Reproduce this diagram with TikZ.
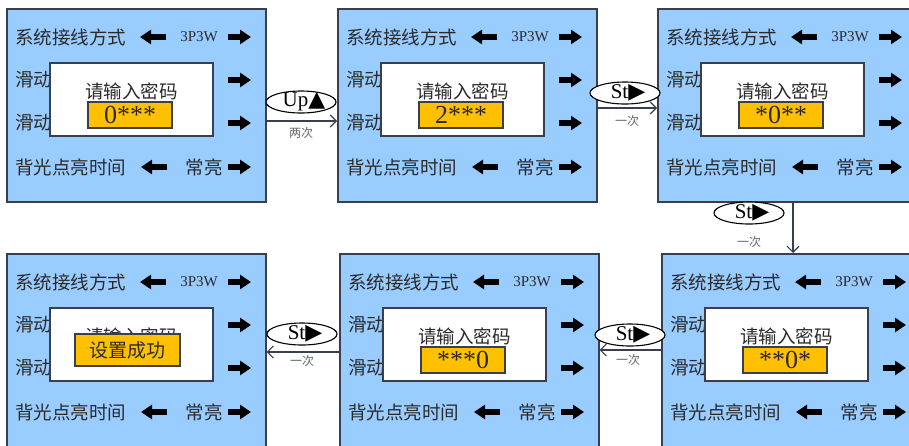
\documentclass[tikz,border=0pt]{standalone}
\usepackage{fontspec}
\setmainfont{Liberation Serif}
\newfontfamily\cjk{Noto Sans CJK SC}
\newfontfamily\symf{DejaVu Sans}
\newcommand\trifont{\symf\fontsize{22}{22}\selectfont}
\usetikzlibrary{arrows.meta,shapes.geometric,calc}
\definecolor{panelblue}{HTML}{99CCFF}
\definecolor{panelline}{HTML}{3A3F4F}
\definecolor{yel}{HTML}{FFC000}
\definecolor{txt}{HTML}{2A2A2A}
\tikzset{
 panel/.style={draw=panelline, line width=1.6pt, fill=panelblue, minimum width=259pt, minimum height=193pt, inner sep=0, anchor=north west},
 rowtxt/.style={font=\cjk\fontsize{18.5}{18.5}\selectfont, text=txt, inner sep=0, anchor=west},
 valtxt/.style={font=\fontsize{15}{15}\selectfont, text=txt, inner sep=0},
 fat/.style={line width=5.5pt, -{Triangle[length=11pt,width=14pt]}, black},
 whitebox/.style={draw=panelline, line width=1.4pt, fill=white, minimum width=163pt, minimum height=73pt, inner sep=0},
 yelbox/.style={draw=panelline, line width=1.2pt, fill=yel, minimum width=84pt, minimum height=26pt, inner sep=0, font=\fontsize{26}{26}\selectfont, text=txt},
 prompt/.style={font=\cjk\fontsize{18.5}{18.5}\selectfont, text=txt, inner sep=0},
 btn/.style={ellipse, draw=black, line width=1.1pt, fill=white, minimum width=70pt, minimum height=22pt, inner sep=0},
 btntxt/.style={inner sep=0, font=\fontsize{21}{21}\selectfont},
 conn/.style={draw=panelline, line width=1.1pt, -{Straight Barb[length=6pt,width=12pt]}},
 cnt/.style={font=\cjk\fontsize{12}{12}\selectfont, text=black!60, inner sep=0},
}
\newcommand\mypanel[3]{%
 \node[panel] (#1) at (#2,#3) {};
 \node[rowtxt] (#1r1) at (#2+9,#3+29) {系统接线方式};
 \node[valtxt] (#1v1) at (#2+193,#3+29) {3P3W};
 \node[rowtxt] (#1r2) at (#2+9,#3+72) {滑动};
 \node[rowtxt] (#1r3) at (#2+9,#3+115) {滑动};
 \node[rowtxt] (#1r4) at (#2+9,#3+159) {背光点亮时间};
 \node[rowtxt, anchor=center] (#1v4) at (#2+198,#3+159) {常亮};
 \draw[fat] (#2+160,#3+29) -- (#2+134,#3+29);
 \draw[fat] (#2+222,#3+29) -- (#2+245,#3+29);
 \draw[fat] (#2+222,#3+72) -- (#2+245,#3+72);
 \draw[fat] (#2+222,#3+115) -- (#2+245,#3+115);
 \draw[fat] (#2+161,#3+159) -- (#2+135,#3+159);
 \draw[fat] (#2+222,#3+159) -- (#2+245,#3+159);
 \node[whitebox] (#1w) at (#2+125.5,#3+91.5) {};
 \node[prompt] (#1p) at (#2+125.5,#3+83) {请输入密码};
}
\newcommand\mybtn[4]{% name, x, y, letters
 \node[btn] (#1) at (#2,#3) {};
 \node[btntxt, xshift=3pt] (#1t) at (#1) {#4};
}
\begin{document}
\begin{tikzpicture}[x=1pt,y=-1pt]
\path[use as bounding box] (0,0) rectangle (909,445);
\clip (0,0) rectangle (909,445);
\fill[white] (0,0) rectangle (909,445);
\mypanel{p1}{6}{8}
\mypanel{p2}{337}{8}
\mypanel{p3}{657}{8}
\mypanel{p4}{6}{253}
\mypanel{p5}{339}{253}
\mypanel{p6}{661}{253}
\node[yelbox] (p1y) at (6+124,8+107) {0***};
\node[yelbox] (p2y) at (337+124,8+107) {2***};
\node[yelbox] (p3y) at (657+124,8+107) {*0**};
\node[yelbox] (p6y) at (661+124,253+107) {**0*};
\node[yelbox] (p5y) at (339+124,253+107) {***0};
\node[yelbox, minimum width=105pt, minimum height=32pt, font=\cjk\fontsize{19}{19}\selectfont] (p4y) at (6+121.5,253+97) {设置成功};
% connectors
\coordinate (c1) at (301,121);
\draw[conn] (p1.east |- c1) -- (p2.west |- c1);
\mybtn{b1}{301}{102}{Up{\trifont ▲}}
\node[cnt] (l1) at (301,133) {两次};
\coordinate (c2) at (627,108);
\draw[conn] (p2.east |- c2) -- (p3.west |- c2);
\mybtn{b2}{625}{93}{St{\trifont ▶}}
\node[cnt] (l2) at (627,121) {一次};
\coordinate (c3) at (793,230);
\draw[conn] (p3.south -| c3) -- (p6.north -| c3);
\mybtn{b3}{749}{213}{St{\trifont ▶}}
\node[cnt] (l3) at (749,242) {一次};
\coordinate (c4) at (630,350);
\draw[conn] (p6.west |- c4) -- (p5.east |- c4);
\mybtn{b4}{630}{335}{St{\trifont ▶}}
\node[cnt] (l4) at (628,360) {一次};
\coordinate (c5) at (302,352);
\draw[conn] (p5.west |- c5) -- (p4.east |- c5);
\mybtn{b5}{302}{334}{St{\trifont ▶}}
\node[cnt] (l5) at (302,361) {一次};
\end{tikzpicture}
\end{document}
